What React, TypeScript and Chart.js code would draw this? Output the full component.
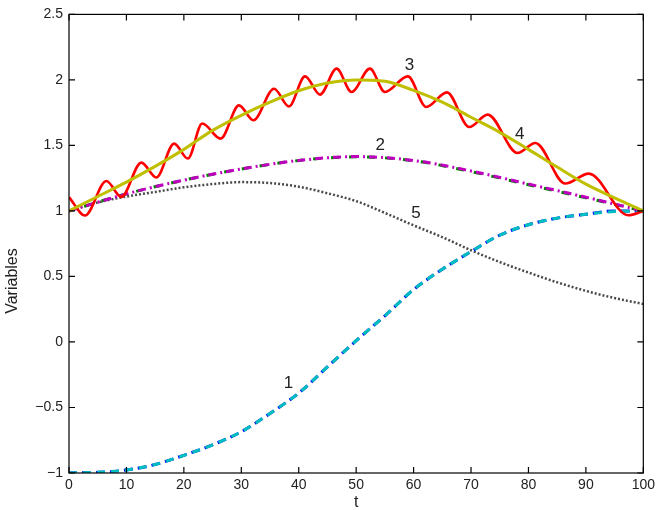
import React, { useEffect, useRef } from "react";
import { Chart, registerables } from "chart.js";

Chart.register(...registerables);

// ---- data ----
const tGrid5 = [0, 5, 10, 15, 20, 25, 30, 35, 40, 45, 50, 55, 60, 65, 70, 75, 80, 85, 90, 95, 100];
const tGrid10 = [0, 10, 20, 30, 40, 50, 60, 70, 80, 90, 100];

const curve1Blue = [-1.0, -0.995, -0.977, -0.935, -0.865, -0.785, -0.685, -0.545, -0.39, -0.19, 0.01, 0.2, 0.4, 0.555, 0.69, 0.815, 0.895, 0.945, 0.975, 1.0, 1.0];
const curve1Cyan = [-1.0, -0.995, -0.977, -0.935, -0.865, -0.785, -0.685, -0.545, -0.39, -0.19, 0.01, 0.2, 0.4, 0.555, 0.69, 0.815, 0.895, 0.945, 0.975, 0.995, 1.0];

const curve2Magenta = [1.0, 1.13, 1.235, 1.32, 1.385, 1.415, 1.385, 1.305, 1.205, 1.105, 1.0];
const curve2Green = [1.0, 1.13, 1.235, 1.32, 1.385, 1.413, 1.383, 1.3, 1.2, 1.1, 1.0];

const curve3T = [0, 2.8, 6.5, 9.1, 12.6, 15.2, 18.3, 20.7, 23.2, 26.4, 29.6, 32.1, 35.7, 38.3, 41.1, 43.7, 46.6, 49.2, 52.4, 55.0, 59.0, 62.2, 65.8, 69.7, 72.9, 78.1, 81.2, 86.4, 90.5, 97.4, 100];
const curve3Y = [1.105, 0.965, 1.228, 1.107, 1.369, 1.255, 1.514, 1.4, 1.667, 1.552, 1.806, 1.692, 1.933, 1.798, 2.027, 1.888, 2.086, 1.908, 2.086, 1.908, 2.027, 1.793, 1.905, 1.641, 1.735, 1.443, 1.519, 1.209, 1.285, 0.967, 1.0];

const curve4 = [1.0, 1.11, 1.22, 1.34, 1.47, 1.615, 1.73, 1.83, 1.917, 1.976, 2.0, 1.99, 1.92, 1.83, 1.715, 1.6, 1.47, 1.335, 1.205, 1.1, 1.0];

const curve5 = [1.0, 1.065, 1.11, 1.145, 1.18, 1.205, 1.22, 1.213, 1.185, 1.135, 1.075, 0.985, 0.89, 0.8, 0.7, 0.61, 0.53, 0.455, 0.39, 0.335, 0.29];

const labelTexts = ["1", "2", "3", "4", "5"];
const labelT = [38.2, 54.2, 59.3, 78.5, 60.4];
const labelY = [-0.314, 1.499, 2.115, 1.583, 0.983];

const xTitle = "t";
const yTitle = "Variables";

const xTickStep = 10;
const yTickStep = 0.5;

const FONT = '"Liberation Sans", Arial, Helvetica, sans-serif';

const pts = (ts: number[], ys: number[]) => ts.map((t, i) => ({ x: t, y: ys[i] }));

const framePlugin = {
  id: "frame",
  afterDatasetsDraw(chart: any) {
    const { ctx, chartArea: a, scales } = chart;
    const x = scales.x;
    const y = scales.y;
    ctx.save();
    ctx.strokeStyle = "#000";
    ctx.lineWidth = 1.2;
    ctx.strokeRect(a.left, a.top, a.right - a.left, a.bottom - a.top);
    const tl = 6;
    ctx.beginPath();
    x.ticks.forEach((tk: any) => {
      const px = x.getPixelForValue(tk.value);
      ctx.moveTo(px, a.bottom);
      ctx.lineTo(px, a.bottom - tl);
      ctx.moveTo(px, a.top);
      ctx.lineTo(px, a.top + tl);
    });
    y.ticks.forEach((tk: any) => {
      const py = y.getPixelForValue(tk.value);
      ctx.moveTo(a.left, py);
      ctx.lineTo(a.left + tl, py);
      ctx.moveTo(a.right, py);
      ctx.lineTo(a.right - tl, py);
    });
    ctx.stroke();
    ctx.fillStyle = "#222";
    ctx.font = `17px ${FONT}`;
    ctx.textAlign = "center";
    ctx.textBaseline = "middle";
    labelTexts.forEach((s, i) => {
      ctx.fillText(s, x.getPixelForValue(labelT[i]), y.getPixelForValue(labelY[i]));
    });
    // axis titles
    ctx.font = `16px ${FONT}`;
    ctx.fillText(xTitle, (a.left + a.right) / 2, 503);
    ctx.translate(13, 281);
    ctx.rotate(-Math.PI / 2);
    ctx.fillText(yTitle, 0, 0);
    ctx.restore();
  },
};

export default function App() {
  const ref = useRef<HTMLCanvasElement | null>(null);
  useEffect(() => {
    if (!ref.current) return;
    const common = { pointRadius: 0, fill: false, cubicInterpolationMode: "monotone" as const };
    const chart = new Chart(ref.current, {
      type: "line",
      data: {
        datasets: [
          { ...common, label: "4", data: pts(tGrid5, curve4), borderColor: "#bfbf00", borderWidth: 3, order: 0 },
          { ...common, label: "3", data: pts(curve3T, curve3Y), borderColor: "#ff0000", borderWidth: 2.6, order: 1 },
          { ...common, label: "2m", data: pts(tGrid10, curve2Magenta), borderColor: "#bf00bf", borderWidth: 3, borderDash: [8, 4, 2, 4], order: 2 },
          { ...common, label: "2g", data: pts(tGrid10, curve2Green), borderColor: "#008000", borderWidth: 3, borderDash: [8, 10], borderDashOffset: 2, order: 3 },
          { ...common, label: "1c", data: pts(tGrid5, curve1Cyan), borderColor: "#00bfbf", borderWidth: 3, borderDash: [8, 6], order: 4 },
          { ...common, label: "1b", data: pts(tGrid5, curve1Blue), borderColor: "#0000ff", borderWidth: 3, borderDash: [9, 5], borderDashOffset: 1, order: 5 },
          { ...common, label: "5", data: pts(tGrid5, curve5), borderColor: "#4a4a4a", borderWidth: 2.5, borderDash: [2, 2], order: 6 },
        ],
      },
      options: {
        animation: false,
        responsive: false,
        events: [],
        layout: { padding: { left: 0, right: 12, top: 14, bottom: 0 } },
        plugins: { legend: { display: false }, tooltip: { enabled: false } },
        scales: {
          x: {
            type: "linear",
            min: 0,
            max: 100,
            grid: { display: false, drawTicks: false },
            border: { display: false },
            ticks: { stepSize: xTickStep, color: "#222", font: { family: FONT, size: 14 }, padding: 4, maxRotation: 0 },
            title: { display: false },
            afterFit: (s: any) => { s.height = 37; },
          },
          y: {
            type: "linear",
            min: -1,
            max: 2.5,
            grid: { display: false, drawTicks: false },
            border: { display: false },
            ticks: {
              stepSize: yTickStep,
              color: "#222",
              font: { family: FONT, size: 14 },
              padding: 6,
              callback: (v: any) => (Number(v) < 0 ? "\u2212" + Math.abs(Number(v)) : String(Number(v))),
            },
            title: { display: false },
            afterFit: (s: any) => { s.width = 69; },
          },
        },
      },
      plugins: [framePlugin],
    });
    return () => chart.destroy();
  }, []);
  return (
    <div style={{ position: "absolute", left: 0, top: 0, width: 659, height: 510, background: "#fff" }}>
      <canvas ref={ref} width={659} height={510} style={{ display: "block" }} />
    </div>
  );
}
